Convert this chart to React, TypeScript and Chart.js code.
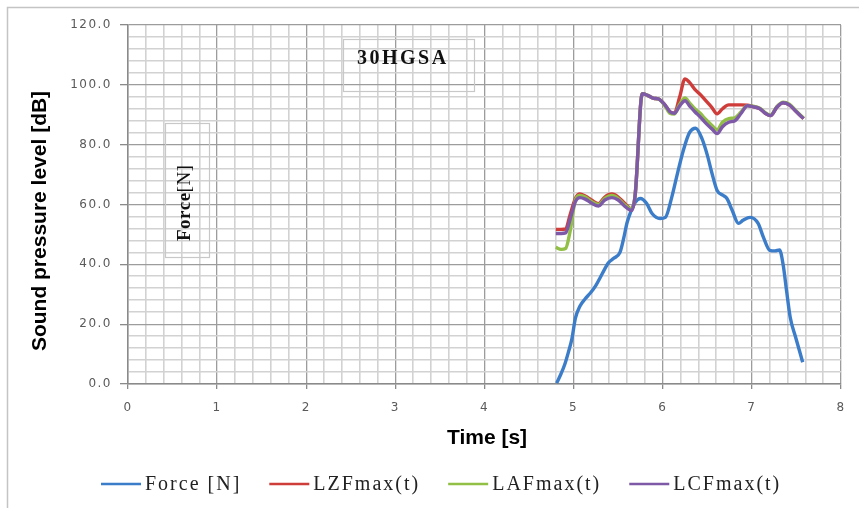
import { useEffect, useRef } from 'react';
import { Chart, registerables } from 'chart.js';

Chart.register(...registerables);

// ---- data ----
const forceTime = [4.81, 4.86, 4.90, 4.94, 4.98, 5.02, 5.07, 5.13, 5.19, 5.25, 5.30, 5.35, 5.39, 5.45, 5.52, 5.56, 5.60, 5.64, 5.69, 5.75, 5.82, 5.88, 5.97, 6.03, 6.10, 6.17, 6.23, 6.30, 6.37, 6.44, 6.50, 6.55, 6.61, 6.68, 6.72, 6.78, 6.85, 6.90, 6.98, 7.07, 7.13, 7.20, 7.26, 7.31, 7.35, 7.39, 7.43, 7.49, 7.57];
const forceValues = [0.3, 3.5, 6.5, 10.5, 15, 22, 26, 28.5, 30.5, 33, 35.7, 38.5, 40.5, 42, 44, 48.5, 54, 57.5, 60.7, 62, 60.3, 57, 55.3, 55.7, 62.3, 71, 78, 84, 85.5, 82, 76.5, 70.7, 64.7, 63, 62, 58, 53.7, 54.7, 55.7, 53.7, 49, 44.7, 44.5, 44.8, 40, 31, 22.3, 15.7, 7.3];

const splTime = [4.80, 4.86, 4.91, 4.96, 5.02, 5.07, 5.13, 5.20, 5.28, 5.35, 5.43, 5.50, 5.57, 5.65, 5.69, 5.77, 5.83, 5.90, 5.95, 6.02, 6.08, 6.13, 6.19, 6.25, 6.30, 6.36, 6.42, 6.48, 6.55, 6.61, 6.67, 6.74, 6.81, 6.88, 6.95, 7.01, 7.09, 7.15, 7.21, 7.28, 7.35, 7.42, 7.50, 7.58];
const lzfValues = [51.7, 51.7, 51.8, 56.5, 62, 63.5, 62.8, 61.5, 60.3, 62.5, 63.5, 62.5, 60.5, 58.5, 63, 97, 96.5, 95.5, 95.3, 93.5, 91, 90.5, 96, 102, 100.8, 98.5, 96.8, 94.8, 92.5, 90.3, 92, 93.3, 93.3, 93.3, 93.2, 92.7, 92, 90.5, 89.7, 92.5, 94, 93.3, 91, 88.7];
const lafValues = [45.7, 45, 45.3, 51, 61.5, 63, 62.5, 61, 60, 62, 63, 62, 60, 58.5, 63, 97, 96.5, 95.5, 95.3, 93.2, 90.5, 90.2, 93.5, 95.6, 94, 92, 90.5, 88.5, 86.5, 85, 87.5, 88.7, 89, 91, 93, 92.9, 92.2, 90.7, 89.9, 92.7, 94.2, 93.5, 91.2, 88.9];
const lcfValues = [50.3, 50.3, 50.5, 55, 61, 62.3, 61.8, 60.5, 59.5, 61.5, 62.3, 61.5, 59.5, 58, 63, 97, 96.5, 95.5, 95.3, 93.5, 91, 90.5, 93, 94.7, 93, 91, 89.3, 87.3, 85.3, 83.7, 86, 87.5, 88, 90.5, 93, 92.7, 92, 90.5, 89.7, 92.5, 94, 93.3, 91, 88.7];

const seriesLabels = ['Force [N]', 'LZFmax(t)', 'LAFmax(t)', 'LCFmax(t)'];
const seriesColors = ['#3C7DC9', '#CF3D3A', '#92BF45', '#7D59A8'];

const chartTitle = '30HGSA';
const boxLabelBold = 'Force';
const boxLabelRest = '[N]';
const xTitle = 'Time [s]';
const yTitle = 'Sound pressure level [dB]';

const isWhole = (v: number, step: number) => Math.abs(v / step - Math.round(v / step)) < 1e-6;

const decorPlugin = {
  id: 'decor',
  beforeDraw(chart: any) {
    const ctx = chart.ctx;
    ctx.save();
    ctx.fillStyle = '#ffffff';
    ctx.fillRect(0, 0, chart.width, chart.height);
    ctx.restore();
    ctx.letterSpacing = '1.5px';
  },
  beforeDatasetsDraw(chart: any) {
    chart.ctx.letterSpacing = '0px';
  },
  afterDraw(chart: any) {
    const ctx = chart.ctx;
    ctx.save();
    // outer frame
    ctx.strokeStyle = '#c4c4c4';
    ctx.lineWidth = 1.5;
    ctx.strokeRect(7.5, 7.5, 1000, 1000);

    // title box
    ctx.strokeStyle = '#c8c8c8';
    ctx.lineWidth = 1.2;
    ctx.strokeRect(343.5, 39.5, 131, 52);
    ctx.fillStyle = '#111';
    ctx.letterSpacing = '2.5px';
    ctx.font = 'bold 20px "Liberation Serif"';
    ctx.textBaseline = 'middle';
    ctx.textAlign = 'left';
    ctx.fillText(chartTitle, 357, 59);

    // Force box
    ctx.strokeRect(165.5, 123.5, 44, 134);
    ctx.save();
    ctx.translate(190, 241);
    ctx.rotate(-Math.PI / 2);
    ctx.letterSpacing = '0.5px';
    ctx.textBaseline = 'alphabetic';
    ctx.font = 'bold 19px "Liberation Serif"';
    ctx.fillText(boxLabelBold, 0, 0);
    const w1 = ctx.measureText(boxLabelBold).width;
    ctx.font = '19px "Liberation Serif"';
    ctx.fillText(boxLabelRest, w1, 0);
    ctx.restore();

    // axis titles
    ctx.letterSpacing = '0px';
    ctx.fillStyle = '#000';
    ctx.font = 'bold 21px "Liberation Sans"';
    ctx.textAlign = 'center';
    ctx.textBaseline = 'middle';
    ctx.fillText(xTitle, 487, 438);
    ctx.save();
    ctx.translate(40, 221);
    ctx.rotate(-Math.PI / 2);
    ctx.fillText(yTitle, 0, 0);
    ctx.restore();

    // legend
    ctx.font = '20px "Liberation Serif"';
    ctx.letterSpacing = '2px';
    ctx.textAlign = 'left';
    ctx.textBaseline = 'middle';
    let x = 101;
    const y = 484;
    chart.data.datasets.forEach((ds: any) => {
      ctx.strokeStyle = ds.borderColor;
      ctx.lineWidth = 2.5;
      ctx.beginPath();
      ctx.moveTo(x, y);
      ctx.lineTo(x + 40, y);
      ctx.stroke();
      ctx.fillStyle = '#222';
      ctx.fillText(ds.label, x + 44, y + 1);
      const tw = ctx.measureText(ds.label).width;
      x += 44 + tw + 28;
    });
    ctx.restore();
  },
};

export default function App() {
  const ref = useRef<HTMLCanvasElement | null>(null);

  useEffect(() => {
    document.body.style.margin = '0';
    if (!ref.current) return;
    const seriesX = [forceTime, splTime, splTime, splTime];
    const seriesY = [forceValues, lzfValues, lafValues, lcfValues];
    const chart = new Chart(ref.current, {
      type: 'line',
      data: {
        datasets: seriesLabels.map((label, i) => ({
          label,
          data: seriesX[i].map((t, j) => ({ x: t, y: seriesY[i][j] })),
          borderColor: seriesColors[i],
          backgroundColor: seriesColors[i],
          borderWidth: 3.4,
          pointRadius: 0,
          fill: false,
          cubicInterpolationMode: 'monotone' as const,
          order: 3 - i,
        })),
      },
      plugins: [decorPlugin],
      options: {
        responsive: false,
        animation: false,
        layout: { padding: { left: 0, top: 25, right: 18, bottom: 0 } },
        plugins: { legend: { display: false }, title: { display: false }, tooltip: { enabled: false } },
        scales: {
          x: {
            type: 'linear',
            min: 0,
            max: 8,
            afterFit: (s: any) => { s.height = 124; },
            ticks: {
              stepSize: 0.2,
              autoSkip: false,
              maxRotation: 0,
              padding: 12,
              color: '#5a5a5a',
              font: { family: '"DejaVu Sans"', size: 12 },
              callback: (v: any) => (isWhole(Number(v), 1) ? String(Math.round(Number(v))) : ''),
            },
            grid: {
              color: (c: any) => (c.tick && isWhole(c.tick.value, 1) ? '#9c9c9c' : '#d2d2d2'),
              lineWidth: (c: any) => (c.tick && isWhole(c.tick.value, 1) ? 1.3 : 1.6),
              tickColor: (c: any) => (c.tick && isWhole(c.tick.value, 1) ? '#8a8a8a' : 'rgba(0,0,0,0)'),
              tickLength: 5,
            },
            border: { color: '#8a8a8a', width: 1.5 },
          },
          y: {
            type: 'linear',
            min: 0,
            max: 120,
            afterFit: (s: any) => { s.width = 128; },
            ticks: {
              stepSize: 4,
              autoSkip: false,
              padding: 8,
              color: '#5a5a5a',
              font: { family: '"DejaVu Sans"', size: 12 },
              callback: (v: any) => (isWhole(Number(v), 20) ? Number(v).toFixed(1) : ''),
            },
            grid: {
              color: (c: any) => (c.tick && isWhole(c.tick.value, 20) ? '#9c9c9c' : '#d2d2d2'),
              lineWidth: (c: any) => (c.tick && isWhole(c.tick.value, 20) ? 1.3 : 1.6),
              tickColor: (c: any) => (c.tick && isWhole(c.tick.value, 20) ? '#8a8a8a' : 'rgba(0,0,0,0)'),
              tickLength: 8,
            },
            border: { color: '#8a8a8a', width: 1.5 },
          },
        },
      },
    });
    return () => chart.destroy();
  }, []);

  return (
    <div style={{ width: 859, height: 508 }}>
      <canvas ref={ref} width={859} height={508} style={{ display: 'block' }} />
    </div>
  );
}
